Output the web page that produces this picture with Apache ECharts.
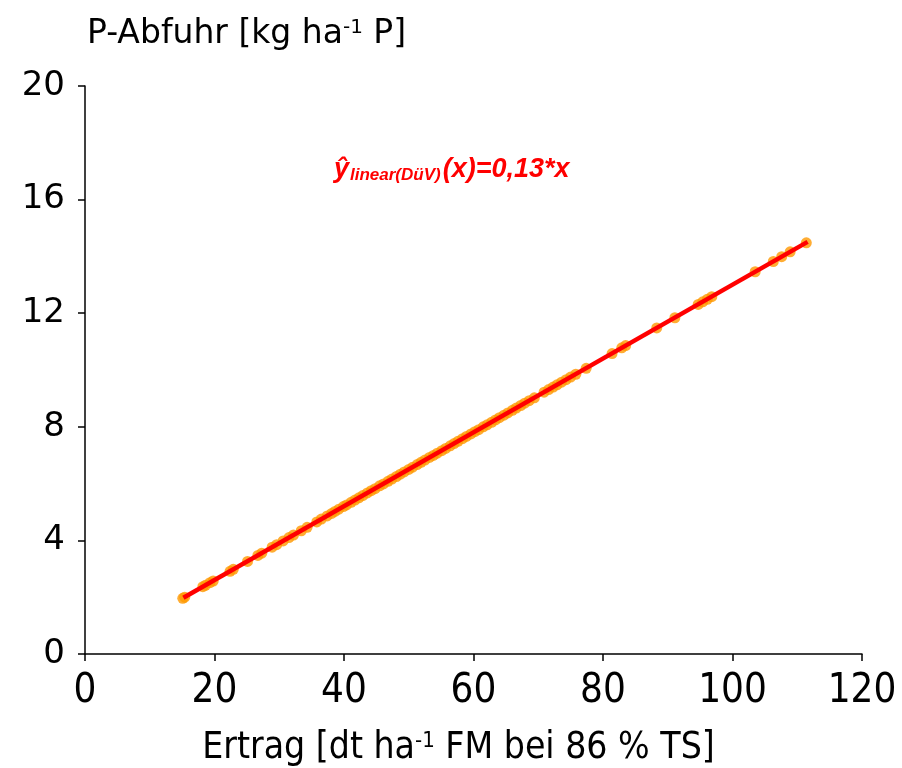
<!DOCTYPE html>
<html>
<head>
<meta charset="utf-8">
<script src="https://cdn.jsdelivr.net/npm/echarts@6/dist/echarts.min.js"></script>
<style>
    html, body { margin: 0; padding: 0; background: #fff; }
    #chart { width: 902px; height: 768px; }
</style>
</head>
<body>
<div id="chart"></div>
<script>
// Ertrag (dt/ha FM) und P-Abfuhr (kg/ha P)
let yieldX = [15.1, 15.4, 18.2, 18.6, 19.3, 19.8, 22.4, 22.9, 25.1, 26.7, 27.3, 28.9, 29.6, 30.6, 31.5, 32.2,
    33.4, 34.3, 35.8, 36.5, 37.4, 38.1, 38.6, 39.2, 39.9, 40.4, 41.1, 41.7, 42.3, 42.9, 43.6, 44.2, 44.8, 45.5,
    46.1, 46.8, 47.4, 48.1, 48.7, 49.3, 50.0, 50.6, 51.3, 51.9, 52.5, 53.2, 53.8, 54.4, 55.1, 55.7, 56.4, 57.0,
    57.6, 58.3, 58.9, 59.6, 60.2, 60.8, 61.5, 62.1, 62.8, 63.4, 64.0, 64.7, 65.3, 66.0, 66.6, 67.3, 67.9, 68.6,
    69.4, 70.9, 71.6, 72.3, 72.9, 73.6, 74.3, 75.0, 75.8, 77.4, 81.4, 82.9, 83.5, 88.3, 91.1, 94.7, 95.4, 96.1,
    96.8, 103.5, 106.3, 107.6, 108.9, 111.4];
let pRemovalY = [1.96, 2.00, 2.37, 2.42, 2.51, 2.57, 2.91, 2.98, 3.26, 3.47, 3.55, 3.76, 3.85, 3.98, 4.10, 4.19,
    4.34, 4.46, 4.65, 4.75, 4.86, 4.95, 5.02, 5.10, 5.19, 5.25, 5.34, 5.42, 5.50, 5.58, 5.67, 5.75, 5.82, 5.92,
    5.99, 6.08, 6.16, 6.25, 6.33, 6.41, 6.50, 6.58, 6.67, 6.75, 6.83, 6.92, 6.99, 7.07, 7.16, 7.24, 7.33, 7.41,
    7.49, 7.58, 7.66, 7.75, 7.83, 7.90, 8.00, 8.07, 8.16, 8.24, 8.32, 8.41, 8.49, 8.58, 8.66, 8.75, 8.83, 8.92,
    9.02, 9.22, 9.31, 9.40, 9.48, 9.57, 9.66, 9.75, 9.85, 10.06, 10.58, 10.78, 10.86, 11.48, 11.84, 12.31, 12.40, 12.49,
    12.58, 13.46, 13.82, 13.99, 14.16, 14.48];
// Regressionsgerade (Endpunkte)
let fitX = [15.2, 111.6];
let fitY = [1.98, 14.51];
let xTicks = [0, 20, 40, 60, 80, 100, 120];
let yTicks = [0, 4, 8, 12, 16, 20];

let chart = echarts.init(document.getElementById('chart'));

let points = yieldX.map(function (x, i) { return [x, pRemovalY[i]]; });
let fitLine = fitX.map(function (x, i) { return [x, fitY[i]]; });

let option = {
    backgroundColor: '#fff',
    animation: false,
    grid: { left: 85, right: 40, top: 86, bottom: 114, outerBoundsMode: 'none', containLabel: false },
    xAxis: {
        type: 'value',
        min: xTicks[0], max: xTicks[xTicks.length - 1], interval: 20,
        name: '{t|Ertrag [dt ha}{s|-1}{t| FM bei 86 % TS]}',
        nameLocation: 'middle',
        nameGap: 76,
        nameTextStyle: {
            padding: [0, 30, 0, 0],
            rich: {
                t: { fontFamily: 'DejaVu Sans Condensed', fontSize: 37, color: '#000' },
                s: { fontFamily: 'DejaVu Sans Condensed', fontSize: 22, color: '#000', verticalAlign: 'top', padding: [0, 0, 15, 0] }
            }
        },
        axisLine: { lineStyle: { color: '#000', width: 1.5 } },
        axisTick: { inside: false, length: 7, lineStyle: { color: '#000', width: 1.5 } },
        axisLabel: { fontFamily: 'DejaVu Sans Condensed', fontSize: 40, color: '#000', margin: 18 },
        splitLine: { show: false }
    },
    yAxis: {
        type: 'value',
        min: yTicks[0], max: yTicks[yTicks.length - 1], interval: 4,
        axisLine: { show: true, lineStyle: { color: '#000', width: 1.5 } },
        axisTick: { show: true, inside: false, length: 7, lineStyle: { color: '#000', width: 1.5 } },
        axisLabel: { fontFamily: 'DejaVu Sans', fontSize: 34, color: '#000', margin: 20 },
        splitLine: { show: false }
    },
    graphic: [
        {
            type: 'text', left: 87, top: 18,
            style: {
                text: '{t|P-Abfuhr [kg ha}{s|-1}{t| P]}',
                rich: {
                    t: { fontFamily: 'DejaVu Sans', fontSize: 33, fill: '#000' },
                    s: { fontFamily: 'DejaVu Sans', fontSize: 20, fill: '#000', verticalAlign: 'top', padding: [0, 0, 13, 0] }
                }
            }
        },
        {
            type: 'text', left: 334, top: 156,
            style: {
                text: '{b|ŷ}{s|linear(DüV)}{b|(x)=0,13*x}',
                rich: {
                    b: { fontFamily: 'Liberation Sans', fontSize: 27, fontWeight: 'bold', fontStyle: 'italic', fill: '#ff0000' },
                    s: { fontFamily: 'Liberation Sans', fontSize: 17, fontWeight: 'bold', fontStyle: 'italic', fill: '#ff0000', verticalAlign: 'bottom', padding: [12, 2, 0, 1] }
                }
            }
        }
    ],
    series: [
        {
            type: 'scatter',
            data: points,
            symbol: 'circle',
            symbolSize: 11,
            itemStyle: { color: '#ff9900' },
            z: 2
        },
        {
            type: 'line',
            data: fitLine,
            symbol: 'none',
            lineStyle: { color: '#ff0000', width: 4.5 },
            z: 3
        }
    ]
};
chart.setOption(option);
</script>
</body>
</html>
